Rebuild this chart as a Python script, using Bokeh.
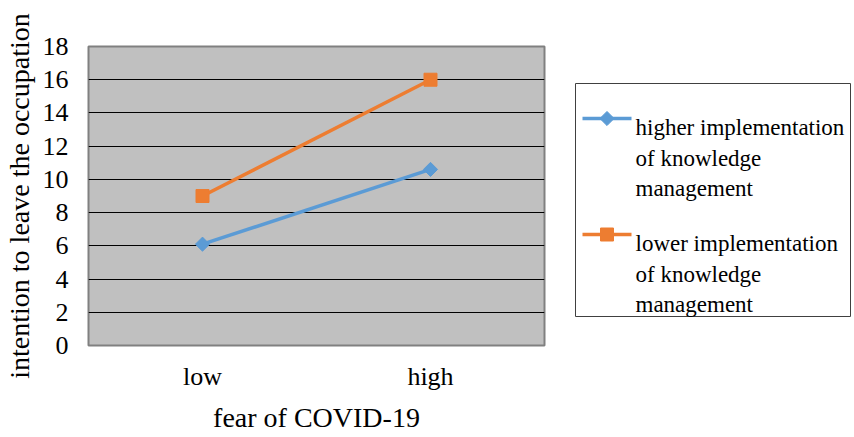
import math
from bokeh.plotting import figure
from bokeh.layouts import row
from bokeh.models import Range1d, FixedTicker, ColumnDataSource
from bokeh.core.properties import value
from bokeh.embed import file_html
from bokeh.resources import INLINE

categories = ["low", "high"]
higher_km = [6.1, 10.6]
lower_km = [9.0, 16.0]
y_ticks = [0, 2, 4, 6, 8, 10, 12, 14, 16, 18]
series_names = ["higher implementation", "lower implementation"]
label_tail = ["of knowledge", "management"]

FONT = "Liberation Serif"
BLUE = "#5b9bd5"
ORANGE = "#ed7d31"
H = 437
TOP, BOTTOM = 46, 92   # borders of the plot frame (px)

# ---------------- main chart ----------------
p = figure(width=546, height=H, x_range=categories, y_range=Range1d(0, 18),
           output_backend="svg", toolbar_location=None,
           min_border_left=88, min_border_top=TOP, min_border_bottom=BOTTOM, min_border_right=2)
p.background_fill_color = "#c0c0c0"
p.border_fill_color = "white"
p.outline_line_color = "#808080"
p.outline_line_width = 2
p.x_range.range_padding = 0

p.xgrid.grid_line_color = None
p.ygrid.grid_line_color = "#000000"
p.ygrid.grid_line_width = 1
p.yaxis.ticker = FixedTicker(ticks=y_ticks)

for ax in (p.xaxis, p.yaxis):
    ax.axis_line_color = None
    ax.major_tick_line_color = None
    ax.minor_tick_line_color = None
    ax.major_tick_out = 0
    ax.major_tick_in = 0
    ax.minor_tick_out = 0
    ax.major_label_text_font = FONT
    ax.major_label_text_font_size = "26px"
    ax.major_label_text_color = "#000000"
    ax.axis_label_text_font = FONT
    ax.axis_label_text_font_size = "28px"
    ax.axis_label_text_font_style = "normal"
    ax.axis_label_text_color = "#000000"

p.yaxis.axis_label = "intention to leave the occupation"
p.yaxis.major_label_standoff = 20
p.yaxis.axis_label_standoff = 5
p.xaxis.axis_label = "fear of COVID-19"
p.xaxis.major_label_standoff = 16
p.xaxis.axis_label_standoff = 8

src_h = ColumnDataSource(dict(x=categories, y=higher_km))
src_l = ColumnDataSource(dict(x=categories, y=lower_km))

p.line("x", "y", source=src_h, line_color=BLUE, line_width=3.5)
p.scatter("x", "y", source=src_h, marker="square", angle=math.pi / 4, size=10,
          fill_color=BLUE, line_color=BLUE)
p.line("x", "y", source=src_l, line_color=ORANGE, line_width=3.5)
p.scatter("x", "y", source=src_l, marker="square", size=13,
          fill_color=ORANGE, line_color=ORANGE)

# ---------------- legend panel ----------------
LX0, LX1 = 546, 852
q = figure(width=LX1 - LX0, height=H, x_range=Range1d(LX0, LX1),
           y_range=Range1d(H - BOTTOM, TOP),
           output_backend="svg", toolbar_location=None,
           x_axis_type=None, y_axis_type=None,
           min_border_left=0, min_border_right=0,
           min_border_top=TOP, min_border_bottom=BOTTOM)
q.outline_line_color = None
q.grid.grid_line_color = None
q.background_fill_color = "white"
q.border_fill_color = "white"

box_left, box_right, box_top, box_bottom = 575, 850, 83, 316
q.quad(left=[box_left], right=[box_right], top=[box_top], bottom=[box_bottom],
       fill_color="white", line_color="#404040", line_width=1)

entry_base = [127, 243]
line_gap = 30.5
glyph_x0, glyph_x1, text_x = 582, 631, 635
colors = [BLUE, ORANGE]
for i in range(2):
    gy = entry_base[i] - 9
    q.line([glyph_x0, glyph_x1], [gy, gy], line_color=colors[i], line_width=3.5)
    if i == 0:
        q.scatter([(glyph_x0 + glyph_x1) / 2], [gy], marker="square", angle=math.pi / 4,
                  size=10, fill_color=BLUE, line_color=BLUE)
    else:
        q.scatter([(glyph_x0 + glyph_x1) / 2], [gy], marker="square", size=13,
                  fill_color=ORANGE, line_color=ORANGE)
    lines = [series_names[i]] + label_tail
    q.text(x=[text_x] * 3, y=[entry_base[i] + k * line_gap for k in range(3)], text=lines,
           text_font=value(FONT), text_font_size="23px", text_color="#000000",
           text_baseline="alphabetic", text_align="left")

layout = row(p, q)
open("out.html", "w").write(file_html(layout, INLINE))
